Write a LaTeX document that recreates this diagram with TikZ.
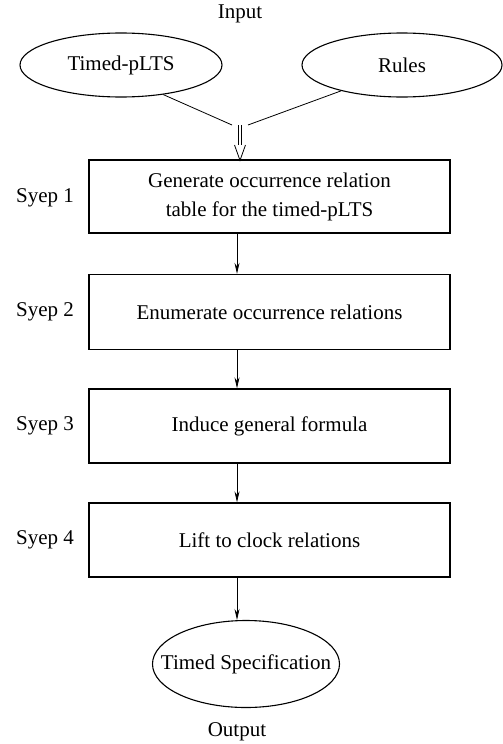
\documentclass[tikz,border=0pt]{standalone}
\usepackage{fontspec}
\setmainfont{Liberation Serif}
\usetikzlibrary{shapes.geometric,arrows.meta}
\begin{document}
\begin{tikzpicture}[x=1pt,y=-1pt,
  every node/.style={font=\fontsize{21}{29}\selectfont},
  stepbox/.style={draw,line width=1.3pt,minimum width=361pt,inner sep=0pt,align=center},
  oval/.style={draw,ellipse,line width=1.1pt,inner sep=0pt},
  arr/.style={line width=0.8pt,-{Stealth[length=11pt,width=5pt]}},
  thin/.style={line width=0.8pt}]
\useasboundingbox (0,0) rectangle (503,744);
\node (input) at (240,14) {Input};
\node[oval,minimum width=202pt,minimum height=64pt] (tplts) at (121,65) {\makebox[0pt][c]{Timed-pLTS}};
\node[oval,minimum width=200pt,minimum height=64pt] (rules) at (402,65) {\makebox[0pt][c]{Rules}};
\coordinate (j1) at (232,125);
\coordinate (j2) at (248,125);
\coordinate (jd) at (240,125);
\coordinate (ax) at (237,0);
\node[stepbox,minimum height=73pt] (s1) at (269.5,196.5) {Generate occurrence relation\\table for the timed-pLTS};
\node[stepbox,minimum height=75pt] (s2) at (269.5,312) {Enumerate occurrence relations};
\node[stepbox,minimum height=74pt] (s3) at (269.5,426) {Induce general formula};
\node[stepbox,minimum height=74pt] (s4) at (269.5,540) {Lift to clock relations};
\node (l1) at (45,198) {Syep 1};
\node (l2) at (45,312) {Syep 2};
\node (l3) at (45,426) {Syep 3};
\node (l4) at (45,540) {Syep 4};
\node[oval,minimum width=187pt,minimum height=87pt] (tspec) at (246,664) {\makebox[0pt][c]{Timed Specification}};
\node (output) at (237,732) {Output};
\draw[thin] (tplts.-35) -- (j1);
\draw[thin] (rules.-157) -- (j2);
% double arrow with open V head
\coordinate (vl) at (234.5,145);
\coordinate (vr) at (245.5,145);
\coordinate (vt) at (jd |- s1.north);
\draw[thin] ([xshift=-1.6pt]jd) -- ([xshift=-1.6pt]jd |- vl) ([xshift=1.6pt]jd) -- ([xshift=1.6pt]jd |- vl);
\draw[thin] (vl) -- ([yshift=-1pt]vt) -- (vr);
\draw[arr] (ax |- s1.south) -- (ax |- s2.north);
\draw[arr] (ax |- s2.south) -- (ax |- s3.north);
\draw[arr] (ax |- s3.south) -- (ax |- s4.north);
\draw[arr] (ax |- s4.south) -- (ax |- tspec.north);
\end{tikzpicture}
\end{document}
